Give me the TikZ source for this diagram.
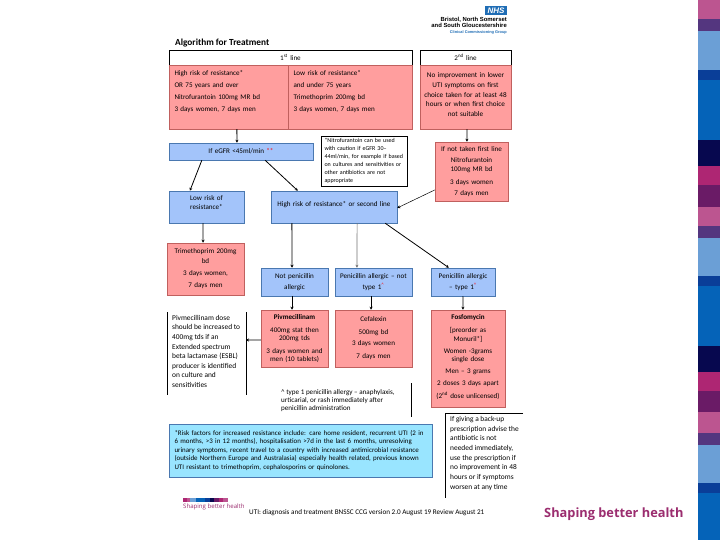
\documentclass[tikz,border=0pt]{standalone}
\usepackage{fontspec}
\setmainfont{Carlito}
\newfontfamily\brandfont{Open Sans}
\newfontfamily\logofont{Liberation Sans}
\usetikzlibrary{calc,shadows,arrows.meta}
\definecolor{pinkfill}{HTML}{FF9E9E}
\definecolor{pinkline}{HTML}{C0605E}
\definecolor{bluefill}{HTML}{A3C4FA}
\definecolor{blueline}{HTML}{4A78B0}
\definecolor{cyanfill}{HTML}{99E5FF}
\definecolor{brand}{HTML}{9B2D6F}
\definecolor{nhsblue}{HTML}{1F6DB5}
\definecolor{sa}{HTML}{BC5590}
\definecolor{sb}{HTML}{54367F}
\definecolor{sc}{HTML}{6B9FD6}
\definecolor{sd}{HTML}{0A3E98}
\definecolor{se}{HTML}{0563B8}
\definecolor{sf}{HTML}{07084F}
\definecolor{sg}{HTML}{AE2673}
\definecolor{sh}{HTML}{6A1B66}
\tikzset{
  base/.style={font=\fontsize{7.1}{8.4}\selectfont,inner sep=0pt,align=center},
  softshadow/.style={drop shadow={shadow xshift=.6pt,shadow yshift=-1pt,opacity=.3,fill=black}},
  pinkbox/.style={base,draw=pinkline,fill=pinkfill,line width=.5pt,softshadow},
  bluebox/.style={base,draw=blueline,fill=bluefill,line width=.5pt,softshadow},
  cyanbox/.style={base,draw=blueline,fill=cyanfill,line width=.4pt,softshadow},
  headbox/.style={base,draw=black,fill=white,line width=.7pt},
  notebox/.style={base,draw=black,fill=white,line width=.8pt},
  plaintext/.style={base,align=left},
  flow/.style={draw=black,line width=.8pt,-{Stealth[length=3pt,width=3pt]}},
  thinflow/.style={draw=black,line width=.5pt,-{Stealth[length=3pt,width=3pt]}},
  greyflow/.style={draw=black!55,line width=.7pt,-{Stealth[length=3pt,width=3pt]}},
  edgeline/.style={draw=black,line width=.8pt}
}
\newcommand{\mybox}[7]{\node[minimum width={(#5-#3)*1pt},minimum height={(#6-#4)*1pt},text width={(#5-#3-3)*1pt},#1] (#2) at ({(#3+#5)/2},{(#4+#6)/2}) {#7};}
\newcommand{\PS}[2]{($(#1.south west)!#2!(#1.south east)$)}
\newcommand{\PN}[2]{($(#1.north west)!#2!(#1.north east)$)}
\newcommand{\PE}[2]{($(#1.north east)!#2!(#1.south east)$)}
\newcommand{\PW}[2]{($(#1.north west)!#2!(#1.south west)$)}
\begin{document}
\begin{tikzpicture}[x=1pt,y=-1pt]
\useasboundingbox (0,0) rectangle (720,540);
\fill[white] (0,0) rectangle (720,540);
\foreach \a/\b/\c in {0/19/sa,19/31/sb,31/70/sc,70/80/sd,80/140/se,140/166/sf,166/185/sg,185/207/sh,207/226/sa,226/238/sb,238/276/sc,276/286/sd,286/346/se,346/372/sf,372/391/sg,391/412/sh,412/433/sa,433/445/sb,445/483/sc,483/493/sd,493/540/se}
  \fill[\c] (698,\a) rectangle (720,\b);
\node[fill=nhsblue,text=white,font=\logofont\bfseries\itshape\fontsize{8}{8}\selectfont,minimum width=22pt,minimum height=9pt,inner sep=0pt] (nhs) at (496,10.5) {NHS};
\node[anchor=north east,inner sep=0pt,align=right,font=\logofont\bfseries\fontsize{5.9}{6}\selectfont] (ccg) at (507,17) {Bristol, North Somerset\\and South Gloucestershire\\{\color{nhsblue}\fontsize{3.9}{4}\selectfont Clinical Commissioning Group}};
\node[anchor=west,inner sep=0pt,font=\bfseries\fontsize{9.3}{10}\selectfont] (title) at (175,43) {Algorithm for Treatment};
\mybox{headbox}{first}{169}{50}{412}{65}{1\textsuperscript{st} line}
\mybox{headbox}{second}{420}{50}{511}{65}{2\textsuperscript{nd} line}
\mybox{pinkbox,align=left,text width=108pt}{high}{169}{65}{288}{129}{High risk of resistance*\\[3.8pt]OR 75 years and over\\[3.8pt]Nitrofurantoin 100mg MR bd\\[3.8pt]3 days women, 7 days men\\[4pt]\mbox{}}
\mybox{pinkbox,align=left,text width=113pt}{low}{288}{65}{412}{129}{Low risk of resistance*\\[3.8pt]and under 75 years\\[3.8pt]Trimethoprim 200mg bd\\[3.8pt]3 days women, 7 days men\\[4pt]\mbox{}}
\mybox{pinkbox,font=\fontsize{7.2}{9.7}\selectfont}{noimp}{420}{65}{511}{129}{No improvement in lower\\UTI symptoms on first\\choice taken for at least 48\\hours or when first choice\\not suitable\\[-5pt]\mbox{}}
\mybox{bluebox}{gfr}{169}{143}{313}{160}{If eGFR <45ml/min {\color{red}**}}
\mybox{notebox,align=left,text width=79pt,font=\fontsize{6}{7.9}\selectfont}{caution}{321}{136}{407}{186}{*Nitrofurantoin can be used\\with caution if eGFR 30--\\44ml/min, for example if based\\on cultures and sensitivities or\\other antibiotics are not\\appropriate}
\mybox{pinkbox}{nottaken}{435}{142}{508}{201}{If not taken first line\\[3.4pt]Nitrofurantoin\\100mg MR bd\\[4.5pt]3 days women\\[3pt]7 days men}
\mybox{bluebox}{lowb}{169}{191}{244}{223}{Low risk of\\[.5pt]resistance*\\[.6pt]\mbox{}}
\mybox{bluebox}{highb}{271}{191}{397}{223}{High risk of resistance* or second line\\[-2.4pt]\mbox{}}
\mybox{pinkbox}{trim}{167}{243}{244}{295}{Trimethoprim 200mg\\[1.5pt]bd\\[3.6pt]3 days women,\\[3.6pt]7 days men}
\mybox{bluebox}{notpen}{261}{268}{328}{296}{Not penicillin\\[2.6pt]allergic}
\mybox{bluebox}{pennot}{335}{268}{412}{296}{Penicillin allergic -- not\\[2.6pt]type 1\textsuperscript{\color{red}\^{}}}
\mybox{bluebox}{penone}{431}{268}{495}{296}{Penicillin allergic\\[2.6pt]-- type 1\textsuperscript{\color{red}\^{}}}
\mybox{pinkbox}{piv}{261}{310}{328}{367}{\textbf{Pivmecillinam}\\[4.6pt]400mg stat then\\200mg tds\\[4.6pt]3 days women and\\men (10 tablets)}
\mybox{pinkbox}{cef}{335}{310}{412}{367}{Cefalexin\\[4.6pt]500mg bd\\[2.6pt]3 days women\\[4.6pt]7 days men}
\mybox{pinkbox}{fos}{431}{310}{505}{407}{\textbf{Fosfomycin}\\[4.6pt][preorder as\\Monuril*]\\[3.6pt]Women -3grams\\single dose\\[3.6pt]Men -- 3 grams\\[3.6pt]2 doses 3 days apart\\[4.6pt](2\textsuperscript{nd} dose unlicensed)\\[-5pt]\mbox{}}
\node[plaintext,anchor=north west,font=\fontsize{7.4}{9.6}\selectfont] (pivnote) at (172,315) {Pivmecillinam dose\\should be increased to\\400mg tds if an\\Extended spectrum\\beta lactamase (ESBL)\\producer is identified\\on culture and\\sensitivities};
\coordinate (pa) at (167,312); \coordinate (pb) at (167,395); \coordinate (pc) at (246,312); \coordinate (pd) at (246,395);
\draw[edgeline] (pa) -- (pb); \draw[edgeline] (pc) -- (pd);
\coordinate (pm) at (246,340);
\node[plaintext,anchor=north west,font=\fontsize{7.1}{8}\selectfont] (typenote) at (281,389.5) {\^{} type 1 penicillin allergy -- anaphylaxis,\\urticarial, or rash immediately after\\penicillin administration};
\coordinate (ta) at (411,383); \coordinate (tb) at (411,417);
\draw[edgeline] (ta) -- (tb);
\node[plaintext,anchor=north west,font=\fontsize{7.4}{9.7}\selectfont] (backup) at (450,416) {If giving a back-up\\prescription advise the\\antibiotic is not\\needed immediately,\\use the prescription if\\no improvement in 48\\hours or if symptoms\\worsen at any time};
\coordinate (ba) at (523,413); \coordinate (bb) at (445,413); \coordinate (bc) at (445,498);
\draw[edgeline] (ba) -- (bb) -- (bc);
\mybox{cyanbox,align=left,text width=252pt,font=\fontsize{6.95}{8.5}\selectfont}{risk}{169}{424}{432}{477}{*Risk factors for increased resistance include: care home resident, recurrent UTI (2 in\\6 months, >3 in 12 months), hospitalisation >7d in the last 6 months, unresolving\\urinary symptoms, recent travel to a country with increased antimicrobial resistance\\(outside Northern Europe and Australasia) especially health related, previous known\\UTI resistant to trimethoprim, cephalosporins or quinolones.}
\foreach \a/\b/\c in {183/187/sg,187/190/sa,190/196/sc,196/205/se,205/210/sd,210/214/sf,214/219/sh,219/223/sg,223/228/sa}
  \fill[\c] (\a,498) rectangle (\b,501.5);
\node[anchor=west,inner sep=0pt,text=brand,font=\brandfont\fontsize{6.1}{7}\selectfont] (smallbrand) at (183,507) {Shaping better health};
\node[anchor=west,inner sep=0pt,font=\fontsize{7.15}{8}\selectfont] (footer) at (249,513) {UTI: diagnosis and treatment BNSSC CCG version 2.0 August 19 Review August 21};
\node[anchor=west,inner sep=0pt,text=brand,font=\brandfont\bfseries\fontsize{12.8}{14}\selectfont] (brandtext) at (544,514) {Shaping better health};
\draw[flow] \PS{high}{.57} -- \PN{gfr}{.472};
\draw[flow] \PS{noimp}{.516} -- \PN{nottaken}{.438};
\draw[flow] \PS{gfr}{.229} -- \PN{lowb}{.28};
\draw[flow] \PS{gfr}{.667} -- \PN{highb}{.214};
\draw[thinflow] \PW{nottaken}{.81} -- \PE{highb}{.53};
\draw[flow] \PS{lowb}{.453} -- \PN{trim}{.468};
\draw[flow] \PS{highb}{.167} -- \PN{notpen}{.463};
\draw[greyflow] \PS{highb}{.683} -- \PN{pennot}{.286};
\draw[flow] \PS{highb}{.905} -- \PN{penone}{.281};
\draw[flow] \PS{notpen}{.463} -- \PN{piv}{.463};
\draw[flow] \PS{pennot}{.468} -- \PN{cef}{.468};
\draw[flow] \PS{penone}{.5} -- \PN{fos}{.432};
\draw[flow] \PW{piv}{.526} -- (pm);
\end{tikzpicture}
\end{document}
